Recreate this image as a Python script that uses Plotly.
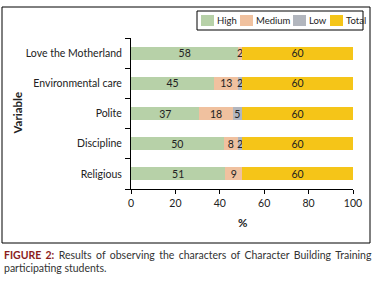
import plotly.graph_objects as go

categories = ["Love the Motherland", "Environmental care", "Polite", "Discipline", "Religious"]
series_names = ["High", "Medium", "Low", "Total"]
high = [58, 45, 37, 50, 51]
medium = [2, 13, 18, 8, 9]
low = [0, 2, 5, 2, 0]
total = [60, 60, 60, 60, 60]
x_ticks = [0, 20, 40, 60, 80, 100]

colors = ["#b7d1a8", "#f0c19f", "#b2b6be", "#f5c518"]
values = [high, medium, low, total]

FONT = "Lato"
fig = go.Figure()
for name, vals, col in zip(series_names, values, colors):
    fig.add_trace(go.Bar(
        y=categories, x=vals, name=name, orientation="h",
        marker=dict(color=col, line=dict(width=0)),
        text=[str(v) if v else "" for v in vals],
        textposition="inside", insidetextanchor="middle",
        constraintext="none", textangle=0,
        textfont=dict(family=FONT, size=10.5, color="#222222"),
        hoverinfo="skip", showlegend=False,
    ))

L, R, T, B = 131, 353, 38, 189
W, H = 378, 282
def px(x):
    return (x - L) / (R - L)
def py(y):
    return (B - y) / (B - T)

fig.update_layout(
    width=W, height=H,
    barmode="stack", barnorm="percent", bargap=0.57,
    margin=dict(l=L, r=W - R, t=T, b=H - B, pad=0, autoexpand=False),
    paper_bgcolor="white", plot_bgcolor="white",
    font=dict(family=FONT, size=10, color="#222222"),
    showlegend=False,
    xaxis=dict(
        range=[0, 100], tickvals=x_ticks, ticktext=[str(t) for t in x_ticks],
        showgrid=False, zeroline=False, showline=True, linecolor="black", linewidth=1,
        ticks="outside", ticklen=4, tickcolor="black",
        tickfont=dict(family=FONT, size=10.5, color="#222222"),
        automargin=False,
    ),
    yaxis=dict(
        categoryorder="array", categoryarray=categories[::-1],
        showgrid=False, zeroline=False, showline=True, linecolor="black", linewidth=1,
        ticks="outside", ticklen=5, tickcolor="black", tickson="boundaries",
        tickfont=dict(family=FONT, size=10.5, color="#222222"),
        ticklabelstandoff=6, automargin=False,
    ),
)

# outer frame
fig.add_shape(type="rect", xref="paper", yref="paper",
              x0=px(2), x1=px(370), y0=py(243), y1=py(7),
              line=dict(color="black", width=1), fillcolor="rgba(0,0,0,0)", layer="below")

# manual legend
fig.add_shape(type="rect", xref="paper", yref="paper",
              x0=px(197), x1=px(363), y0=py(30), y1=py(11),
              line=dict(color="black", width=1), fillcolor="white")
swatch_left = [201, 240, 293, 330]
for name, col, sx in zip(series_names, colors, swatch_left):
    fig.add_shape(type="rect", xref="paper", yref="paper",
                  x0=px(sx), x1=px(sx + 13), y0=py(26), y1=py(15),
                  line=dict(width=0), fillcolor=col)
    fig.add_annotation(text=name, xref="paper", yref="paper",
                       x=px(sx + 14), y=py(20.5), xanchor="left", yanchor="middle",
                       showarrow=False, font=dict(family=FONT, size=9.5, color="#222222"))

fig.add_annotation(text="<b>Variable</b>", textangle=-90, xref="paper", yref="paper",
                   x=px(17), y=0.5, xanchor="center", yanchor="middle", showarrow=False,
                   font=dict(family=FONT, size=11.5, color="#222222"))
fig.add_annotation(text="<b>%</b>", xref="paper", yref="paper",
                   x=0.5, y=py(222), xanchor="center", yanchor="middle", showarrow=False,
                   font=dict(family=FONT, size=11.5, color="#222222"))

fig.add_annotation(
    text="<span style='word-spacing:1.7px'><b><span style='color:#8b1c1c'>FIGURE 2:</span></b> Results of observing the characters of Character Building Training</span>",
    xref="paper", yref="paper", x=px(2), y=py(255), xanchor="left", yanchor="middle",
    showarrow=False, font=dict(family=FONT, size=10.5, color="#333333"))
fig.add_annotation(
    text="participating students.",
    xref="paper", yref="paper", x=px(2), y=py(268), xanchor="left", yanchor="middle",
    showarrow=False, font=dict(family=FONT, size=10.5, color="#333333"))

fig.write_html("out.html", config={"displayModeBar": False},
               post_script="document.body.style.margin='0px';document.body.style.overflow='hidden';")
